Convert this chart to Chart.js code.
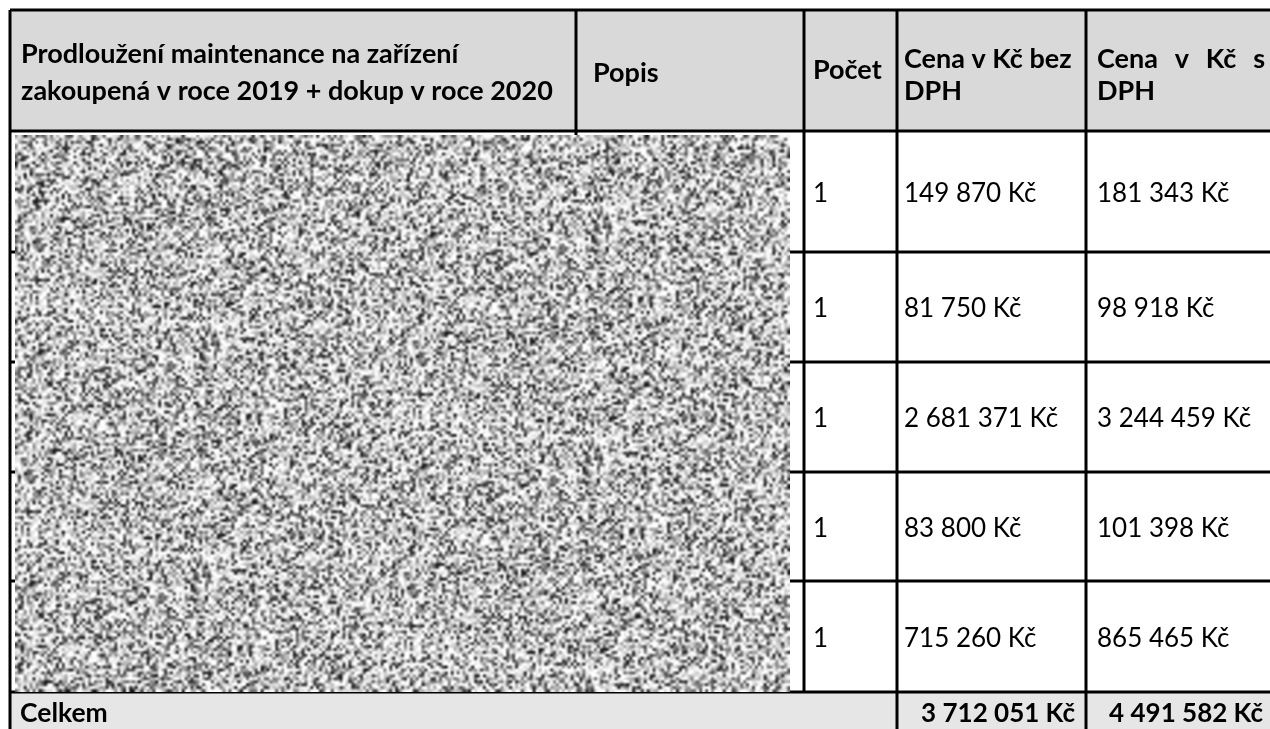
<!DOCTYPE html>
<html>
<head>
<meta charset="utf-8">
<script src="https://cdn.jsdelivr.net/npm/chart.js@4/dist/chart.umd.min.js"></script>
<style>
  html, body { margin: 0; padding: 0; background: #ffffff; }
  #wrap { width: 1270px; height: 729px; }
</style>
</head>
<body>
<div id="wrap"><canvas id="tableChart" width="1270" height="729"></canvas></div>
<script>
// table content
const headerCells = [
  ['Prodloužení maintenance na zařízení', 'zakoupená v roce 2019 + dokup v roce 2020'],
  ['Popis'],
  ['Počet'],
  ['Cena v Kč bez', 'DPH'],
  ['Cena v Kč s', 'DPH']
];
const quantities = ['1', '1', '1', '1', '1'];
const pricesNoVat = ['149 870 Kč', '81 750 Kč', '2 681 371 Kč', '83 800 Kč', '715 260 Kč'];
const pricesVat = ['181 343 Kč', '98 918 Kč', '3 244 459 Kč', '101 398 Kč', '865 465 Kč'];
const totalLabel = 'Celkem';
const totalNoVat = '3 712 051 Kč';
const totalVat = '4 491 582 Kč';

// layout (pixel units of the linear scales)
const colEdges = [10, 576, 804, 897, 1086, 1268];
const rowEdges = [10, 131, 252, 362, 472, 581, 692, 760];
const textX = [21, 593, 813, 904, 1097];
const headerBaselines = [[63, 100], [82], [79], [68, 100], [68, 100]];
const justifyRight = 1265;
const FONT = 'Lato, "Open Sans", sans-serif';

// one point per text cell, placed through the scales
const cells = [];
headerCells.forEach((lines, c) => {
  lines.forEach((t, i) => {
    cells.push({ x: textX[c], y: headerBaselines[c][i], text: t, bold: true, size: 27, justify: c === 4 && i === 0 });
  });
});
quantities.forEach((q, r) => {
  const base = (rowEdges[r + 1] + rowEdges[r + 2]) / 2 + 10;
  cells.push({ x: textX[2], y: base, text: q, size: 26 });
  cells.push({ x: textX[3], y: base, text: pricesNoVat[r], size: 26 });
  cells.push({ x: textX[4], y: base, text: pricesVat[r], size: 26 });
});
cells.push({ x: 20, y: 722, text: totalLabel, bold: true, size: 26.5 });
cells.push({ x: 1075, y: 722, text: totalNoVat, bold: true, size: 26, right: true });
cells.push({ x: 1263, y: 722, text: totalVat, bold: true, size: 26, right: true });

// grey speckle used to cover the redacted area (decoration only)
function makeSpeckle(w, h) {
  const c = document.createElement('canvas');
  c.width = w; c.height = h;
  const g = c.getContext('2d');
  const img = g.createImageData(w, h);
  let s = 12345;
  for (let i = 0; i < w * h; i++) {
    s = (s * 1103515245 + 12345) & 0x7fffffff;
    const v = s / 0x7fffffff;
    const gray = Math.round(255 - 230 * v * v);
    img.data[i * 4] = gray;
    img.data[i * 4 + 1] = gray;
    img.data[i * 4 + 2] = gray;
    img.data[i * 4 + 3] = 255;
  }
  g.putImageData(img, 0, 0);
  return c;
}
const speckle = makeSpeckle(265, 190);

const tablePlugin = {
  id: 'tablePlugin',
  beforeDatasetsDraw(chart) {
    const { ctx, scales: { x, y } } = chart;
    const px = v => x.getPixelForValue(v);
    const py = v => y.getPixelForValue(v);
    ctx.save();
    // fills
    ctx.fillStyle = '#d9d9d9';
    ctx.fillRect(px(colEdges[0]), py(rowEdges[0]), px(colEdges[5]) - px(colEdges[0]) + 2, py(rowEdges[1]) - py(rowEdges[0]));
    ctx.fillStyle = '#e7e6e6';
    ctx.fillRect(px(colEdges[0]), py(rowEdges[6]), px(colEdges[5]) - px(colEdges[0]) + 2, py(rowEdges[7]) - py(rowEdges[6]));
    // borders
    ctx.strokeStyle = '#000000';
    ctx.lineWidth = 3;
    const seg = (x1, y1, x2, y2) => {
      ctx.beginPath();
      ctx.moveTo(px(x1), py(y1));
      ctx.lineTo(px(x2), py(y2));
      ctx.stroke();
    };
    for (let r = 0; r < 7; r++) seg(colEdges[0], rowEdges[r], colEdges[5] + 4, rowEdges[r]);
    seg(colEdges[0], rowEdges[0], colEdges[0], rowEdges[7]);
    seg(colEdges[1], rowEdges[0], colEdges[1], rowEdges[6]);
    seg(colEdges[2], rowEdges[0], colEdges[2], rowEdges[6]);
    seg(colEdges[3], rowEdges[0], colEdges[3], rowEdges[7]);
    seg(colEdges[4], rowEdges[0], colEdges[4], rowEdges[7]);
    // redacted block
    ctx.imageSmoothingEnabled = true;
    ctx.imageSmoothingQuality = 'high';
    ctx.drawImage(speckle, px(15), py(135), px(790) - px(15), py(692) - py(135));
    ctx.restore();
  },
  afterDatasetsDraw(chart) {
    const { ctx } = chart;
    const meta = chart.getDatasetMeta(0);
    ctx.save();
    ctx.fillStyle = '#000000';
    ctx.textBaseline = 'alphabetic';
    meta.data.forEach((pt, i) => {
      const cell = cells[i];
      ctx.font = (cell.bold ? 'bold ' : '') + cell.size + 'px ' + FONT;
      if (cell.justify) {
        const words = cell.text.split(' ');
        const widths = words.map(w => ctx.measureText(w).width);
        const total = widths.reduce((a, b) => a + b, 0);
        const right = chart.scales.x.getPixelForValue(justifyRight);
        const gap = (right - pt.x - total) / (words.length - 1);
        let cx = pt.x;
        ctx.textAlign = 'left';
        words.forEach((w, k) => { ctx.fillText(w, cx, pt.y); cx += widths[k] + gap; });
      } else {
        ctx.textAlign = cell.right ? 'right' : 'left';
        ctx.fillText(cell.text, pt.x, pt.y);
      }
    });
    ctx.restore();
  }
};

new Chart(document.getElementById('tableChart'), {
  type: 'scatter',
  data: {
    datasets: [{
      label: 'cells',
      data: cells.map(c => ({ x: c.x, y: c.y })),
      pointRadius: 0,
      pointHoverRadius: 0
    }]
  },
  options: {
    responsive: false,
    animation: false,
    events: [],
    layout: { padding: 0 },
    plugins: { legend: { display: false }, tooltip: { enabled: false } },
    scales: {
      x: { type: 'linear', min: 0, max: 1270, display: false },
      y: { type: 'linear', min: 0, max: 729, reverse: true, display: false }
    }
  },
  plugins: [tablePlugin]
});
</script>
</body>
</html>
